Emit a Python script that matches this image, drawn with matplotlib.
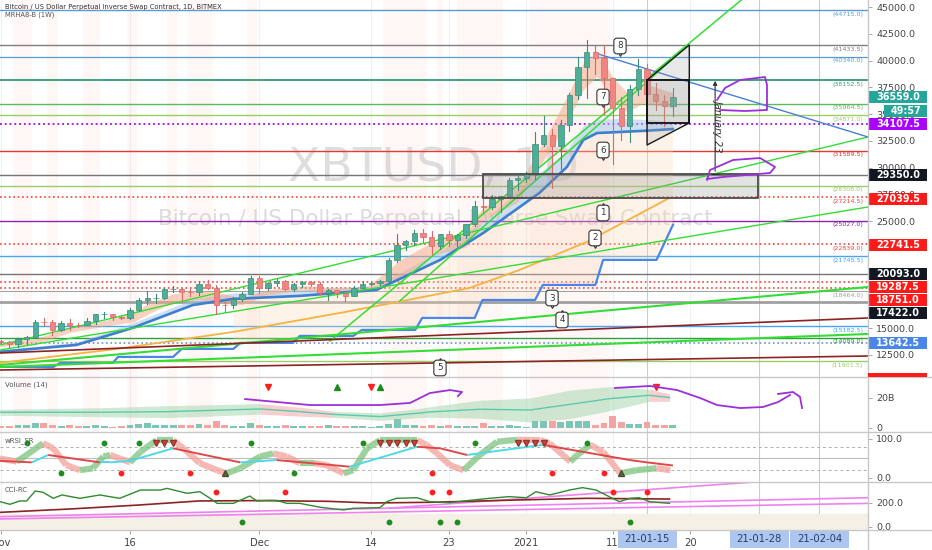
import numpy as np
import matplotlib
matplotlib.use("Agg")
import matplotlib.pyplot as plt
from matplotlib.patches import Rectangle, Polygon
from matplotlib.collections import LineCollection
from matplotlib.lines import Line2D
import matplotlib.transforms as mtrans

plt.rcParams['font.family'] = ['DejaVu Sans']

# ---------------- candles: day 0 = 2020-11-01 ----------------
opens = [13780,13750,13550,14020,14150,15590,15580,14830,15480,15330,
         15300,15700,16290,16330,16070,15960,16720,17660,17800,17820,
         18670,18700,18430,18370,19160,18730,17150,17140,17720,18180,
         19700,18800,19220,19440,18650,19150,19360,19170,18320,18550,
         18250,18030,18800,19170,19270,19440,21350,22800,23130,23860,
         23480,22720,23820,23240,23730,24710,26440,26280,27040,27360,
         28860,28990,29370,32190,33000,31990,33990,36820,39370,40800,
         40250,38350,35550,33910,37310,39190,36830,36180,35800]
highs = [13880,13830,14060,14250,15750,15960,15770,15650,15840,15460,
         15940,16340,16480,16330,16140,16870,17860,18480,18180,18790,
         18960,18730,18760,19420,19480,19000,17460,17910,18350,19860,
         19920,19310,19560,19520,19180,19420,19410,19290,18640,18560,
         18290,18940,19410,19340,19550,21560,23770,23280,24170,24300,
         24100,23840,24080,23780,24770,26850,28400,27480,27380,29000,
         29300,29600,33300,34800,33600,34460,36950,40300,41950,41360,
         41360,38350,36600,37700,40100,39700,37900,36800,37400]
lows = [13600,13220,13290,13530,14100,15200,14350,14700,14820,15070,
        15280,15440,15970,15780,15870,15880,16570,17220,17360,17770,
        18370,17630,18020,18110,18620,16330,16530,16900,17530,18180,
        18330,18530,18930,18590,18520,18890,18910,18200,17650,17910,
        17580,18020,18730,19000,19060,19300,21230,22350,22780,23070,
        21900,22370,22700,22700,23450,24520,25850,26100,25880,27320,
        27870,28700,28950,32000,28130,29900,33400,36400,36500,38720,
        35000,30300,32600,32400,36800,34400,35360,33900,34800]
closes = [13750,13550,14020,14150,15590,15580,14830,15480,15330,15300,
          15700,16290,16330,16070,15960,16720,17660,17800,17820,18670,
          18700,18430,18370,19160,18730,17150,17140,17720,18180,19700,
          18800,19220,19440,18650,19150,19360,19170,18320,18550,18250,
          18030,18800,19170,19270,19440,21350,22800,23130,23860,23480,
          22720,23820,23240,23730,24710,26440,26280,27040,27360,28860,
          28990,29370,32190,33000,31990,33990,36820,39370,40800,40250,
          38350,35550,33910,37310,39190,36830,36180,35800,36559]
volumes_b = [1.1,1.1,1.8,1.8,3.1,3.1,2.2,1.1,2.0,1.3, 1.3,2.0,1.3,0.9,1.1,1.8,2.7,3.3,2.2,2.2,
             1.8,1.8,1.8,2.7,2.2,4.9,2.2,1.1,1.3,3.1, 1.8,1.6,1.6,1.8,1.1,1.1,1.1,1.3,1.8,1.6,
             1.6,1.1,1.1,0.9,1.3,2.7,5.8,1.8,1.8,1.3, 2.2,1.6,2.2,1.3,1.3,1.3,3.1,1.3,1.3,1.8,
             1.3,0.9,4.4,4.4,4.4,4.0,4.4,4.9,4.9,1.8, 3.1,8.0,4.0,2.7,2.7,4.0,2.2,2.2,2.2]

# ---------------- horizontal levels ----------------
level_prices = [44715.0,41433.5,40340.0,38152.5,35964.5,34871.0,34107.5,31589.5,29350.0,28308.0,
                27214.5,25027.0,22839.0,21745.5,20093.0,19287.5,18751.0,18464.0,17422.0,15182.5,
                14089.0,13642.5,11901.5]
level_colors = ['#5b9bd5','#7f7f7f','#5b9bd5','#3f9f80','#5cb85c','#9ccc65','#aa00ff','#e53935','#757575','#9ccc65',
                '#f44336','#8e24aa','#f44336','#42a5f5','#757575','#f44336','#f44336','#9e9e9e','#a0a0a0','#42a5f5',
                '#2e9e3e','#6f8fc8','#9ccc65']
level_styles = ['-','-','-','-','-','-',':','-','-','-',
                ':','-',':','-','-',':',':','-','-','-',
                '-',':','-']
level_widths = [1.0,1.0,0.9,1.4,1.0,1.0,1.3,1.0,1.0,1.0,
                1.2,1.0,1.2,1.0,1.0,1.2,1.2,0.7,2.0,1.0,
                1.0,1.2,1.0]
level_tagged = [True,True,True,True,True,True,False,True,False,True,
                True,True,True,True,False,False,False,True,False,True,
                True,False,True]

# ---------------- right axis price tags ----------------
tag_texts = ['36559.0','34107.5','29350.0','27039.5','22741.5','20093.0','19287.5','18751.0','17422.0','13642.5']
tag_pos = [36559.0,34107.5,29350.0,27039.5,22741.5,20093.0,18851.0,17637.0,16422.0,13642.5]
tag_colors = ['#26a69a','#aa00ff','#131722','#ff1a1a','#ff1a1a','#131722','#ff1a1a','#ff1a1a','#131722','#4a86e8']

# ---------------- indicator lines (main) ----------------
ema_x = [-0.1,8.8,15.3,22.3,27,34.7,43.6,51,56,62.5,65.7,67.6,69.2,71.9,75,78]
ema_y = [12790,13440,15030,17170,17740,18020,18580,21380,23900,27630,30060,32580,33230,33330,33450,33600]
ema_hi = [12990,13700,15500,17700,18300,18600,19000,22200,25000,29500,31600,33900,34500,34600,34500,34300]

slow_x = [-0.1,13.5,27,40,54.4,60.2,68,77.6]
slow_y = [11760,13070,14655,16520,18760,20440,23060,27170]

fast_x = [-0.1,4,8,12,15.4,17.3,20,23,26,28,30.9,35,38,42.5,46.4,50,54,56,60,62.6,65.7,67.6,69.2,71.1,72.7,74.5,78]
fast_hi = [13700,14000,15100,15700,16500,17400,18200,18600,18200,17800,18600,19000,18800,18850,21400,23000,23900,26300,28200,31900,36600,39800,40700,38400,37000,37900,37000]
fast_lo = [13300,13500,14600,15200,15600,16400,17400,17700,17300,17200,18100,18600,18300,18400,19600,21800,22600,25100,26800,30200,34200,37300,38500,36300,35200,36000,35600]

step_x = [-0.1,6.1,6.9,13.0,13.6,20.0,21.0,27.0,27.8,33.9,34.7,40.9,41.9,48.1,48.9,55.0,55.9,62.0,62.9,69.0,69.9,76.1,78.0]
step_y = [11387,11387,11760,11760,12320,12320,13070,13070,13630,13630,14280,14280,14840,14840,15960,15960,17640,17640,19040,19040,21380,21380,24650]

# trend lines (day, price) pairs
green_lines = [((-0.087,13433),(100.64,32859)), ((-0.087,12967),(100.64,26322)),
               ((-0.087,11567),(100.64,18851)), ((-0.087,11380),(100.64,14462)),
               ((38.2,13807),(89.3,47895)), ((46.3,17544),(79.8,41451))]
green_widths = [1.0,1.0,1.5,1.5,1.1,1.1]
red_lines = [((-0.087,12687),(100.64,15956)), ((-0.087,11099),(100.64,12407))]
blue_lines = [((68.96,40704),(100.64,32859))]

tri_pts = [(75.0,38182),(79.9,41451),(79.9,34167),(75.0,32112)]
small_box = (75.0,34167,79.9,38182)
big_box = (55.97,27163,87.88,29404)

purple_main_1 = [(83.12,36315),(84.05,37436),(85.79,38182),(88.69,38463),(88.92,37716),(88.92,35381),(86.37,35287),(83.47,35381)]
purple_main_2 = [(81.96,28843),(82.31,29777),(84.98,30711),(88.11,30898),(89.85,30058),(89.27,29497),(83.82,29124),(81.96,28937)]
purple_vol_1 = [(28.35,19.3),(35.89,15.3),(44.0,15.3),(47.5,16.7),(49.8,23.3),(52.14,25.3),(53.53,24.0),(53.05,21.3)]
purple_vol_2 = [(71.28,26.7),(75.34,28.0),(78.48,25.3),(81.15,20.0),(83.12,15.3),(85.79,13.3),(88.46,14.0),(90.2,17.3),(91.59,22.0)]
purple_vol_3 = [(90.2,22.7),(91.94,24.0),(92.75,20.7),(92.99,13.3)]

call_nums = [8,7,6,1,2,3,4,5]
call_days = [71.86,69.89,69.89,69.89,68.96,63.97,65.13,50.97]
call_prices = [41358,36595,31645,25762,23427,17823,15769,11286]
call_ptr = ['down','down','down','up','down','down','up','up']

stripe_days = [(1.4,3.6),(5.4,6.6),(9.6,11.5),(14.6,15.8),(19.3,20.4),(21.6,24.6),(28.6,29.7),
               (44.4,49.5),(50.6,51.3),(52.9,58.3),(61.4,70.7)]

# ---------------- volume panel ----------------
vol_ma_x = [-0.1,11.5,19.3,30.1,34.7,38.6,44,48.3,49.8,55.6,61.4,66.1,70.7,75.3,77.6]
vol_ma = [10.5,10.5,10.9,12.7,10.9,9.1,7.6,9.8,10.7,12.5,12.0,15.8,19.6,21.8,20.3]
vol_band_lo = [8.5,7.5,6.9,9.2,7.9,7.1,5.1,6.8,7.2,6.5,4.0,6.3,11.6,17.8,17.8]
vol_band_hi = [12.5,13.5,14.9,16.2,13.9,11.1,10.1,12.8,14.2,18.5,20.0,25.3,27.6,25.8,22.8]
vol_seg_pink = [False,False,False,True,True,False,False,False,False,False,False,False,False,True]
vol_red_marks = [31,43,76]
vol_green_marks = [39,44]

# ---------------- wRSI panel ----------------
rsi_fast_x = [-0.1,1.85,3,4.9,6.1,7.6,9.2,10.7,11.9,12.7,13.8,15,16.2,18.1,20,21.2,23.1,25.1,26.2,27.8,
              30.1,31.6,33.2,34.7,36.3,37.8,39.8,40.9,42.5,44,46,48.3,49.4,50.8,52.1,53.7,55.6,57.6,59.9,62.6,
              63.7,66.1,66.9,68.4,69.9,71.9,73.8,76.1,77.7]
rsi_fast = [50,42,59,89,76,33,20,25,55,59,50,40,67,97,97,76,38,20,12,25,
            55,63,55,38,38,33,12,20,76,97,97,97,85,60,33,20,59,93,98,97,
            89,42,59,85,67,12,20,25,20]
rsi_slow_x = [-0.1,3.6,5.5,11.5,12.7,15,20,27.8,32,40.5,48.3,51,54.1,62.9,73,75,78]
rsi_slow = [44,40,59,40,40,44,76,40,46,29,80,76,59,85,46,40,32]
rsi_green_top = [3,12,16,29,42,55,68]
rsi_green_bot = [7,34]
rsi_green_tri = [26,72]
rsi_red_bot = [14,22,50,64,70]
rsi_red_top = [18,19,20,44,45,46,47,48,60,61,62,63]

# ---------------- CCI panel ----------------
cci_x = [-0.09,1.07,2.2,3,4,4.9,6.1,7.1,9.2,11.5,13.8,16.2,18.5,19.3,21.6,23.1,24.3,25.1,27,28.9,
         29.7,30.9,32,33.2,34.7,37.1,39.8,40.9,44,44.8,45.9,48.3,49.8,52.1,54.4,56.7,59,61,62.1,63.7,
         66,67.5,69.1,70.6,71.8,73,74.1,75.3,77.6]
cci = [211,189,217,217,300,289,239,267,239,267,239,308,308,322,281,294,239,197,197,258,
       217,222,222,197,197,164,142,156,161,211,239,244,211,203,222,239,253,244,294,267,
       308,328,308,253,211,239,244,211,197]
cci_ma_x = [-0.09,8,16,23,30,38,43,50,60,68,77.6]
cci_ma = [122,150,183,217,220,214,200,206,225,239,233]
cci_pink_lines = [((-0.087,86),(100.64,244)), ((-0.087,67),(100.64,197)), ((45,157),(100.64,443))]
cci_red_marks = [25,33,50,52,71,75]
cci_green_marks = [28,45,51,53,73]

# ---------------- x axis ----------------
xtick_days = [0,15,30,43,52,61,71,80]
xtick_labels = ['Nov','16','Dec','14','23','2021','11','20']
xbox_days = [75,88,95]
xbox_labels = ['21-01-15','21-01-28','21-02-04']

# ================= drawing =================
W, H = 932, 550
fig = plt.figure(figsize=(9.32, 5.5), dpi=100)
fig.patch.set_facecolor('white')

def fax(y0, y1):
    return fig.add_axes([0, 1 - y1 / H, 868 / W, (y1 - y0) / H])

ax = fax(0, 377)
axv = fax(377, 432)
axr = fax(432, 482)
axc = fax(482, 530)

XMIN, XMAX = -0.087, 100.64
YMIN, YMAX = 10445, 45654
ppx = (YMAX - YMIN) / 377.0
days = np.arange(len(opens))

for a in (ax, axv, axr, axc):
    a.set_xlim(XMIN, XMAX)
    for s in a.spines.values():
        s.set_visible(False)
    a.yaxis.tick_right()
    a.tick_params(axis='y', length=3, width=0.6, color='#999999', labelsize=6.8,
                  labelcolor='#444444', pad=3)
    a.tick_params(axis='x', length=0, labelbottom=False)
    a.set_xticks([])
    for d in xtick_days:
        a.axvline(d, color='#eef0f4', lw=0.8, zorder=0)
    for d in xbox_days:
        a.axvline(d, color='#bccdf0', lw=0.8, zorder=0.2)

for a in (ax, axv):
    for (s0, s1) in stripe_days:
        a.axvspan(s0, s1, color='#ff8a8a', alpha=0.07, lw=0, zorder=0.1)

# ---- main panel ----
ax.set_ylim(YMIN, YMAX)
ax.set_yticks(np.arange(12500, 45001, 2500))
ax.set_yticklabels(['%.1f' % v for v in np.arange(12500, 45001, 2500)])

ax.text(50.2, 29900, 'XBTUSD, 1D', fontsize=34, color='#c4c4c4', alpha=0.55,
        ha='center', va='center', zorder=0.5)
ax.text(50.4, 25200, 'Bitcoin / US Dollar Perpetual Inverse Swap Contract', fontsize=15.5,
        color='#c4c4c4', alpha=0.6, ha='center', va='center', zorder=0.5)

lbl_tr = mtrans.offset_copy(ax.transData, fig=fig, x=0, y=-4, units='dots')
for p, c, ls, lw, tg in zip(level_prices, level_colors, level_styles, level_widths, level_tagged):
    ax.axhline(p, color=c, ls=ls, lw=lw, zorder=1)
    if tg:
        ax.text(100.1, p, '(%.1f)' % p, transform=lbl_tr, fontsize=4.6, color=c,
                ha='right', va='center', zorder=1.2)

# clouds / bands
cloud = [(x, y) for x, y in zip(ema_x, ema_y) if x >= 27] + \
        [(x, y) for x, y in zip(step_x, step_y) if x >= 27][::-1]
ax.add_patch(Polygon(cloud, closed=True, facecolor='#f9d8b6', alpha=0.3, edgecolor='none', zorder=1.5))
ax.fill_between(ema_x, ema_y, ema_hi, color='#9fc5e8', alpha=0.5, lw=0, zorder=1.6)
ax.fill_between(fast_x, fast_lo, fast_hi, color='#f4a582', alpha=0.5, lw=0, zorder=1.7)

ax.plot(slow_x, slow_y, color='#f5b342', lw=1.3, zorder=2)
ax.plot(step_x, step_y, color='#4a86e8', lw=1.6, zorder=2)
ax.plot(ema_x, ema_y, color='#3d7fd0', lw=1.9, zorder=2.1)

for (p0, p1), lw in zip(green_lines, green_widths):
    ax.plot([p0[0], p1[0]], [p0[1], p1[1]], color='#33dd33', lw=lw, zorder=2.2)
for p0, p1 in red_lines:
    ax.plot([p0[0], p1[0]], [p0[1], p1[1]], color='#8b2323', lw=1.2, zorder=2.2)
for p0, p1 in blue_lines:
    ax.plot([p0[0], p1[0]], [p0[1], p1[1]], color='#4a7fd4', lw=1.0, zorder=2.2)

# candles
up_face, up_edge = '#4fae96', '#3b8c78'
dn_face, dn_edge = '#f28482', '#d76a68'
for d, o, h, l, c in zip(days, opens, highs, lows, closes):
    up = c >= o
    ec = up_edge if up else dn_edge
    fc = up_face if up else dn_face
    ax.plot([d, d], [l, h], color=ec, lw=0.8, zorder=3)
    ax.add_patch(Rectangle((d - 0.31, min(o, c)), 0.62, max(abs(c - o), 40),
                           facecolor=fc, edgecolor=ec, lw=0.5, zorder=3.1))

# drawings
ax.add_patch(Polygon(tri_pts, closed=True, facecolor='#9e9e9e', alpha=0.22, edgecolor='none', zorder=4))
tx, ty = zip(*(tri_pts + [tri_pts[0]]))
ax.plot(tx, ty, color='#1a1a1a', lw=1.0, zorder=4.1)
x0, y0, x1, y1 = small_box
ax.add_patch(Rectangle((x0, y0), x1 - x0, y1 - y0, facecolor='#9e9e9e', alpha=0.2, edgecolor='none', zorder=4))
ax.add_patch(Rectangle((x0, y0), x1 - x0, y1 - y0, facecolor='none', edgecolor='#111111', lw=1.3, zorder=4.2))
x0, y0, x1, y1 = big_box
ax.add_patch(Rectangle((x0, y0), x1 - x0, y1 - y0, facecolor='#8c8c8c', alpha=0.25, edgecolor='none', zorder=4))
ax.add_patch(Rectangle((x0, y0), x1 - x0, y1 - y0, facecolor='none', edgecolor='#4a4a4a', lw=1.3, zorder=4.2))

ax.annotate('', xy=(82.9, 38369), xytext=(82.9, 29404),
            arrowprops=dict(arrowstyle='-|>', color='#333333', lw=0.8, mutation_scale=6), zorder=4.3)
ax.plot([82.5, 83.3], [29404, 29404], color='#333333', lw=0.8, zorder=4.3)
ax.text(83.35, 33980, 'January 23', rotation=-90, fontsize=7, color='#333333',
        ha='center', va='center', style='italic', zorder=4.3)

for pts in (purple_main_1, purple_main_2):
    px_, py_ = zip(*pts)
    ax.plot(px_, py_, color='#9b30d9', lw=1.3, zorder=4.4, solid_capstyle='round')

for num, d, p, ptr in zip(call_nums, call_days, call_prices, call_ptr):
    off = -7 if ptr == 'down' else 7
    tr = mtrans.offset_copy(ax.transData, fig=fig, x=0, y=off, units='dots')
    ax.plot([d], [p], marker='v' if ptr == 'down' else '^', ms=5, mfc='white', mec='#333333',
            mew=0.8, transform=tr, zorder=8)
    ax.text(d, p, str(num), ha='center', va='center', fontsize=6.3, color='#333333', zorder=9,
            bbox=dict(boxstyle='round,pad=0.38,rounding_size=0.35', fc='white', ec='#333333', lw=0.8))

# right price tags
bt = mtrans.blended_transform_factory(ax.transAxes, ax.transData)
for txt, pos, col in zip(tag_texts, tag_pos, tag_colors):
    ax.add_patch(Rectangle((1.0, pos - 6 * ppx), 59 / 868, 12 * ppx, transform=bt, facecolor=col,
                           edgecolor='none', clip_on=False, zorder=20))
    ax.text(1.0 + 30 / 868, pos, txt, transform=bt, ha='center', va='center', color='white',
            fontsize=6.9, fontweight='bold', zorder=21, clip_on=False)
cd_pos = 35287
ax.add_patch(Rectangle((1.0 + 16 / 868, cd_pos - 6 * ppx), 43 / 868, 12 * ppx, transform=bt,
                       facecolor='#26a69a', edgecolor='none', clip_on=False, zorder=20))
ax.text(1.0 + 37.5 / 868, cd_pos, '49:57', transform=bt, ha='center', va='center', color='white',
        fontsize=6.9, fontweight='bold', zorder=21, clip_on=False)

# ---- volume panel ----
axv.set_ylim(-2.67, 34)
axv.set_yticks([0, 20])
axv.set_yticklabels(['0', '20B'])
for i in range(len(vol_ma_x) - 1):
    col = '#f4a6a6' if vol_seg_pink[i] else '#a8d8b0'
    axv.fill_between(vol_ma_x[i:i + 2], vol_band_lo[i:i + 2], vol_band_hi[i:i + 2],
                     color=col, alpha=0.55, lw=0, zorder=1)
axv.plot(vol_ma_x, vol_ma, color='#5cc9ae', lw=1.0, zorder=2)
vcols = ['#7cc6b8' if c >= o else '#f4a3a3' for o, c in zip(opens, closes)]
axv.bar(days, volumes_b, width=0.8, color=vcols, zorder=3)
axv.plot(vol_red_marks, [27] * len(vol_red_marks), 'v', color='#ff2020', ms=4.5, zorder=4)
axv.plot(vol_green_marks, [27] * len(vol_green_marks), '^', color='#1e8c1e', ms=4.5, zorder=4)
for pts in (purple_vol_1, purple_vol_2, purple_vol_3):
    px_, py_ = zip(*pts)
    axv.plot(px_, py_, color='#9b30d9', lw=1.3, zorder=5, clip_on=False)

# ---- wRSI panel ----
axr.set_ylim(-10.3, 117.9)
axr.set_yticks([0, 100])
axr.set_yticklabels(['0.0', '100.0'])
for lv in (80, 20):
    axr.axhline(lv, color='#b0b0b0', lw=0.7, ls=(0, (3, 3)), zorder=1)
axr.axhline(50, color='#bdbdbd', lw=0.8, zorder=1)
segs, cols = [], []
for i in range(len(rsi_fast_x) - 1):
    segs.append([(rsi_fast_x[i], rsi_fast[i]), (rsi_fast_x[i + 1], rsi_fast[i + 1])])
    cols.append('#7cc47f' if rsi_fast[i + 1] >= rsi_fast[i] else '#f4a09a')
axr.add_collection(LineCollection(segs, colors=cols, linewidths=4.5, alpha=0.75, zorder=2,
                                  capstyle='butt'))
segs, cols = [], []
for i in range(len(rsi_slow_x) - 1):
    segs.append([(rsi_slow_x[i], rsi_slow[i]), (rsi_slow_x[i + 1], rsi_slow[i + 1])])
    cols.append('#4dd9e8' if rsi_slow[i + 1] >= rsi_slow[i] else '#e04848')
axr.add_collection(LineCollection(segs, colors=cols, linewidths=1.4, zorder=3))
axr.plot(rsi_green_top, [90] * len(rsi_green_top), 'o', color='#1e8c1e', ms=3.2, zorder=4)
axr.plot(rsi_green_bot, [13] * len(rsi_green_bot), 'o', color='#1e8c1e', ms=3.2, zorder=4)
axr.plot(rsi_green_tri, [13] * len(rsi_green_tri), '^', color='#2e7d32', mec='#5d4037', ms=4.5, zorder=4)
axr.plot(rsi_red_bot, [13] * len(rsi_red_bot), 'o', color='#ff2020', ms=3.2, zorder=4)
axr.plot(rsi_red_top, [90] * len(rsi_red_top), 'v', color='#e53935', mec='#8d3b2f', ms=4.2, zorder=4)

# ---- CCI panel ----
axc.set_ylim(-25, 375)
axc.set_yticks([0, 200])
axc.set_yticklabels(['0.0', '200.0'])
axc.axhspan(-25, 106, color='#f4f0e6', zorder=0.3)
for p0, p1 in cci_pink_lines:
    axc.plot([p0[0], p1[0]], [p0[1], p1[1]], color='#ee82ee', lw=1.2, zorder=1)
axc.plot(cci_ma_x, cci_ma, color='#8b2323', lw=1.2, zorder=2)
axc.plot(cci_x, cci, color='#2e8b2e', lw=1.0, zorder=3)
axc.plot(cci_red_marks, [292] * len(cci_red_marks), 'o', color='#ff2020', ms=3.2, zorder=4)
axc.plot(cci_green_marks, [42] * len(cci_green_marks), 'o', color='#1e8c1e', ms=3.2, zorder=4)

# x axis labels
axc.set_xticks(xtick_days)
axc.set_xticklabels(xtick_labels)
axc.tick_params(axis='x', length=3, width=0.6, color='#999999', labelsize=7.2,
                labelcolor='#444444', pad=3, labelbottom=True)
bx = mtrans.blended_transform_factory(axc.transData, axc.transAxes)
bw = 59 / 8.617
for d, t in zip(xbox_days, xbox_labels):
    axc.add_patch(Rectangle((d - bw / 2, -18 / 48), bw, 17 / 48, transform=bx, facecolor='#adc6f0',
                            edgecolor='none', clip_on=False, zorder=20))
    axc.text(d, -9.5 / 48, t, transform=bx, ha='center', va='center', fontsize=7.2,
             color='#1f3f6f', zorder=21, clip_on=False)

# ---- figure decorations ----
for yy in (377, 432, 482, 530):
    fig.add_artist(Line2D([0, 1], [1 - yy / H] * 2, transform=fig.transFigure, color='#c8c8c8', lw=1))
fig.add_artist(Line2D([868 / W] * 2, [0, 1], transform=fig.transFigure, color='#c8c8c8', lw=1))
fig.patches.append(Rectangle((868 / W, 1 - 377 / H), 59 / W, 4 / H, transform=fig.transFigure,
                             facecolor='#ff1a1a', edgecolor='none', zorder=5))

fig.text(5 / W, 1 - 7 / H, 'Bitcoin / US Dollar Perpetual Inverse Swap Contract, 1D, BITMEX',
         fontsize=4.9, color='#333333', ha='left', va='center')
fig.text(5 / W, 1 - 15 / H, 'MRHA8-B (1W)', fontsize=4.9, color='#555555', ha='left', va='center')
fig.text(5 / W, 1 - 385 / H, 'Volume (14)', fontsize=5, color='#555555', ha='left', va='center')
fig.text(5 / W, 1 - 441 / H, 'wRSI_SR', fontsize=5, color='#555555', ha='left', va='center')
fig.text(5 / W, 1 - 490 / H, 'CCI-RC', fontsize=5, color='#555555', ha='left', va='center')

fig.savefig('out.png', dpi=100, facecolor='white')
